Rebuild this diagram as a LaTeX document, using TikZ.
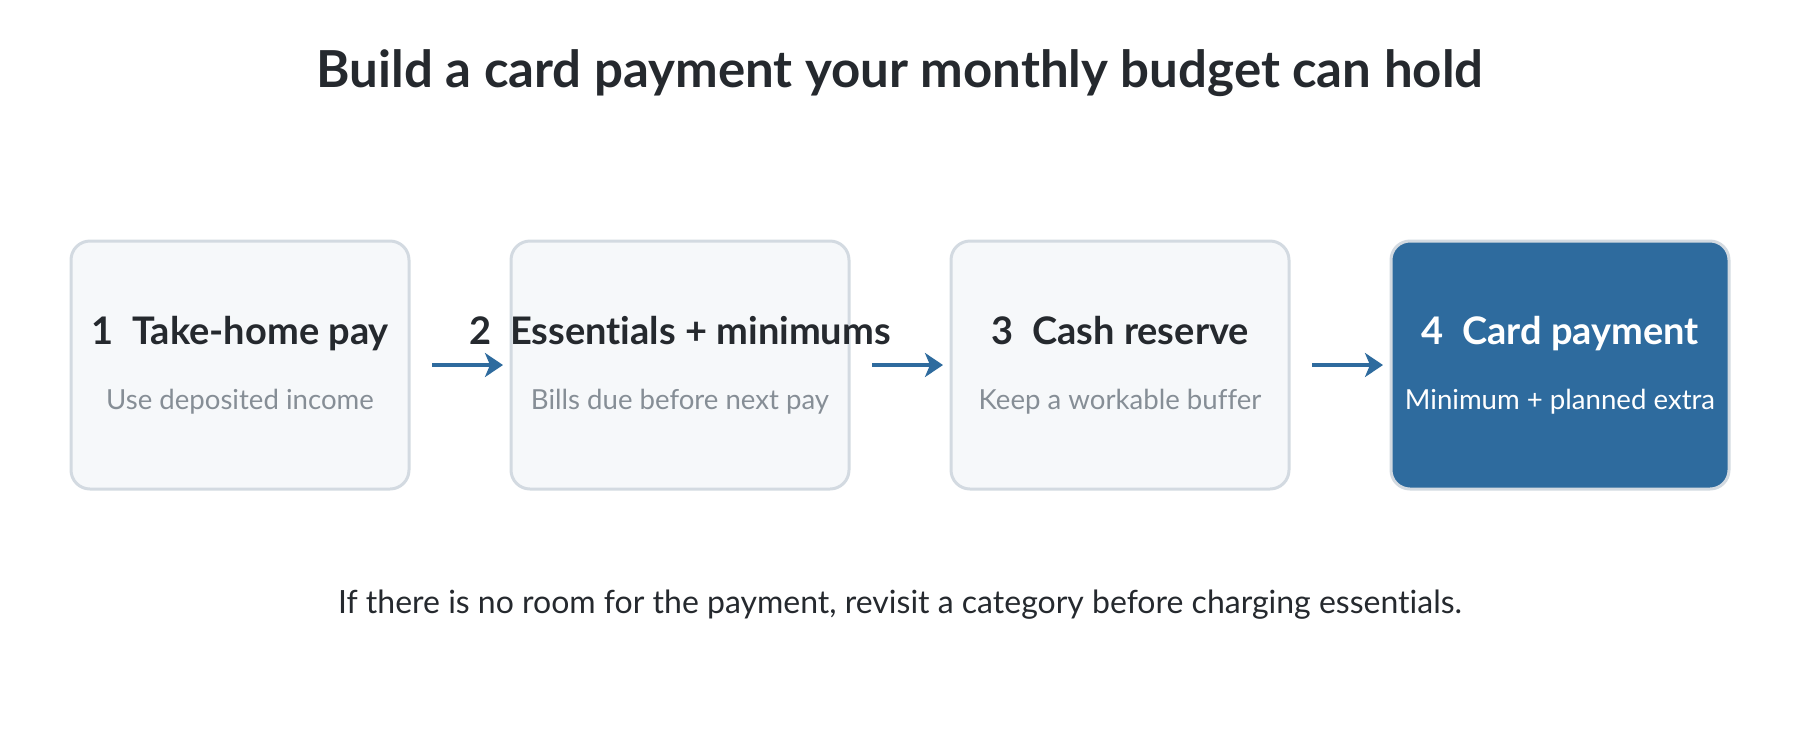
\documentclass[tikz,border=0pt]{standalone}
\usepackage{fontspec}
\setmainfont{Lato}[Ligatures=NoCommon]
\usepackage{tikz}
\usetikzlibrary{positioning, arrows.meta}
\definecolor{inkdark}{HTML}{25292E}
\definecolor{inkgray}{HTML}{868E96}
\definecolor{boxfill}{HTML}{F6F8FA}
\definecolor{boxline}{HTML}{D3DAE1}
\definecolor{stepblue}{HTML}{2E6B9E}
\tikzstyle{stage} = [rectangle, rounded corners=9.5pt, minimum width=169pt, minimum height=124pt, outer sep=0pt, draw=boxline, line width=1.5pt, fill=boxfill]
\tikzstyle{arrow} = [line width=2.2pt, draw=stepblue, -{Stealth[length=9pt, width=12pt, inset=2.5pt]}, shorten <=11.5pt, shorten >=4pt]

\begin{document}
\begin{tikzpicture}[x=0.5pt, y=-0.5pt, node distance=51pt]

    % Styles
    \tikzstyle{heading} = [anchor=base, font=\fontsize{19}{23}\selectfont\bfseries, text=inkdark]
    \tikzstyle{note} = [anchor=base, font=\fontsize{13.8}{16}\selectfont, text=inkgray]

    \useasboundingbox (0,0) rectangle (1800,730);

    % Title
    \node (title) [anchor=base, font=\fontsize{25.5}{30}\selectfont\bfseries, text=inkdark] at (900,87) {Build a card payment your monthly budget can hold};

    % Boxes
    \node (take) [stage] at (240,365) {};
    \node (essentials) [stage, right=of take] {};
    \node (reserve) [stage, right=of essentials] {};
    \node (card) [stage, right=of reserve, fill=stepblue] {};

    % Box texts
    \node (takehead) [heading] at ([yshift=10.5pt]take.center) {1\hspace{0.5em}Take-home pay};
    \node (takenote) [note] at ([yshift=-22pt]take.center) {Use deposited income};
    \node (esshead) [heading] at ([yshift=10.5pt]essentials.center) {2\hspace{0.5em}Essentials + minimums};
    \node (essnote) [note] at ([yshift=-22pt]essentials.center) {Bills due before next pay};
    \node (reshead) [heading] at ([yshift=10.5pt]reserve.center) {3\hspace{0.5em}Cash reserve};
    \node (resnote) [note] at ([yshift=-22pt]reserve.center) {Keep a workable buffer};
    \node (cardhead) [heading, text=white] at ([yshift=10.5pt]card.center) {4\hspace{0.5em}Card payment};
    \node (cardnote) [note, text=white] at ([yshift=-22pt]card.center) {Minimum + planned extra};

    % Arrows
    \draw [arrow] (take) -- (essentials);
    \draw [arrow] (essentials) -- (reserve);
    \draw [arrow] (reserve) -- (card);

    % Footer
    \node (footer) [anchor=base, font=\fontsize{16}{19}\selectfont, text=inkdark] at (900,613) {If there is no room for the payment, revisit a category before charging essentials.};

\end{tikzpicture}
\end{document}
